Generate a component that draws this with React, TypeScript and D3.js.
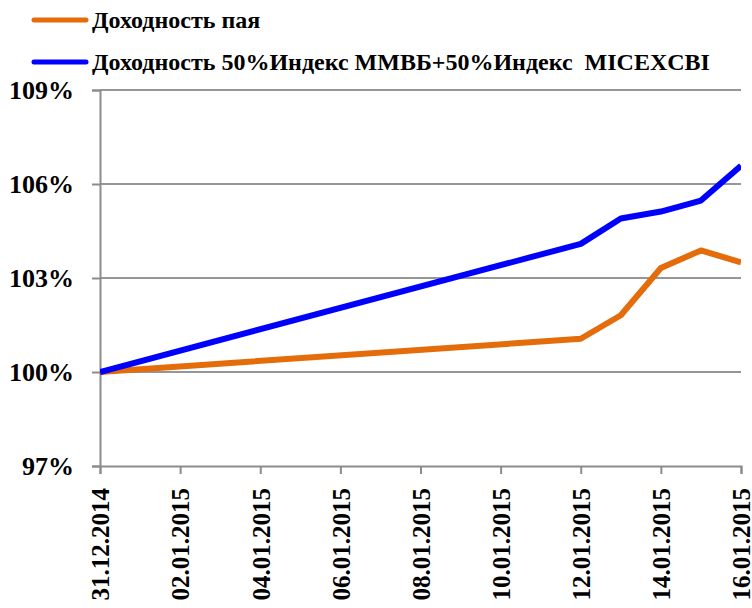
import React, { useEffect, useRef } from "react";
import * as d3 from "d3";

// данные графика
const dates = ["31.12.2014", "12.01.2015", "13.01.2015", "14.01.2015", "15.01.2015", "16.01.2015"];
const fundYield = [100, 101.06, 101.81, 103.32, 103.88, 103.5];
const indexYield = [100, 104.09, 104.9, 105.12, 105.47, 106.58];
const xTickLabels = [
  "31.12.2014", "02.01.2015", "04.01.2015", "06.01.2015", "08.01.2015",
  "10.01.2015", "12.01.2015", "14.01.2015", "16.01.2015",
];
const yTicks = [97, 100, 103, 106, 109];
const seriesNames = ["Доходность пая", "Доходность 50%Индекс ММВБ+50%Индекс  MICEXCBI"];
const colors = ["#E46C0A", "#0000FF"];

const W = 752;
const H = 608;
const FONT = "'Liberation Serif', 'Times New Roman', serif";

const parse = d3.utcParse("%d.%m.%Y");

function App() {
  const svgRef = useRef<SVGSVGElement>(null);

  useEffect(() => {
    const svg = d3.select(svgRef.current);
    svg.selectAll("*").remove();

    const x = d3
      .scaleUtc()
      .domain([parse(xTickLabels[0])!, parse(xTickLabels[xTickLabels.length - 1])!])
      .range([100, 741]);
    const y = d3.scaleLinear().domain([97, 109]).range([466, 90]);

    // сетка
    svg
      .append("g")
      .selectAll("line")
      .data(yTicks.filter((t) => t !== 97))
      .join("line")
      .attr("x1", 100)
      .attr("x2", 741)
      .attr("y1", (d) => y(d))
      .attr("y2", (d) => y(d))
      .attr("stroke", "#969696")
      .attr("stroke-width", 2);

    // ось Y
    const yAxis = d3
      .axisLeft(y)
      .tickValues(yTicks)
      .tickSize(8)
      .tickPadding(18)
      .tickFormat((d) => `${d}%`);
    const gy = svg
      .append("g")
      .attr("transform", "translate(100,0)")
      .call(yAxis)
      .attr("font-family", FONT)
      .attr("font-size", 26);
    gy.select(".domain").attr("stroke", "#8c8c8c").attr("stroke-width", 2);
    gy.selectAll(".tick line").attr("stroke", "#8c8c8c").attr("stroke-width", 2);
    gy.selectAll(".tick text").attr("fill", "#000").attr("font-weight", "bold");

    // ось X
    const xAxis = d3
      .axisBottom(x)
      .tickValues(xTickLabels.map((s) => parse(s)!))
      .tickSize(8)
      .tickFormat((d) => d3.utcFormat("%d.%m.%Y")(d as Date));
    const gx = svg
      .append("g")
      .attr("transform", "translate(0,466)")
      .call(xAxis)
      .attr("font-family", FONT)
      .attr("font-size", 25);
    gx.select(".domain").attr("stroke", "#8c8c8c").attr("stroke-width", 2);
    gx.selectAll(".tick line").attr("stroke", "#8c8c8c").attr("stroke-width", 2);
    gx.selectAll(".tick text")
      .attr("fill", "#000")
      .attr("font-weight", "bold")
      .attr("text-anchor", "end")
      .attr("transform", "rotate(-90)")
      .attr("x", -22)
      .attr("y", 0)
      .attr("dy", "0.35em");

    // линии
    const line = d3
      .line<number>()
      .x((_, i) => x(parse(dates[i])!))
      .y((d) => y(d));

    svg
      .append("defs")
      .append("clipPath")
      .attr("id", "plot")
      .append("rect")
      .attr("x", 100)
      .attr("y", 0)
      .attr("width", 641)
      .attr("height", 470);

    [fundYield, indexYield].forEach((s, i) => {
      svg
        .append("path")
        .datum(s)
        .attr("d", line)
        .attr("fill", "none")
        .attr("stroke", colors[i])
        .attr("stroke-width", 6)
        .attr("stroke-linejoin", "round")
        .attr("clip-path", "url(#plot)");
    });

    // легенда
    const legend = svg
      .append("g")
      .selectAll("g")
      .data(seriesNames)
      .join("g")
      .attr("transform", (_, i) => `translate(0,${20 + i * 42})`);
    legend
      .append("line")
      .attr("x1", 34)
      .attr("x2", 86)
      .attr("stroke", (_, i) => colors[i])
      .attr("stroke-width", 5)
      .attr("stroke-linecap", "round");
    legend
      .append("text")
      .attr("x", 92)
      .attr("dy", "0.35em")
      .attr("font-family", FONT)
      .attr("font-weight", "bold")
      .attr("font-size", 24)
      .style("white-space", "pre")
      .text((d) => d);
  }, []);

  return (
    <div style={{ position: "absolute", left: 0, top: 0 }}>
      <svg ref={svgRef} width={W} height={H} style={{ display: "block", background: "#fff" }} />
    </div>
  );
}

export default App;
